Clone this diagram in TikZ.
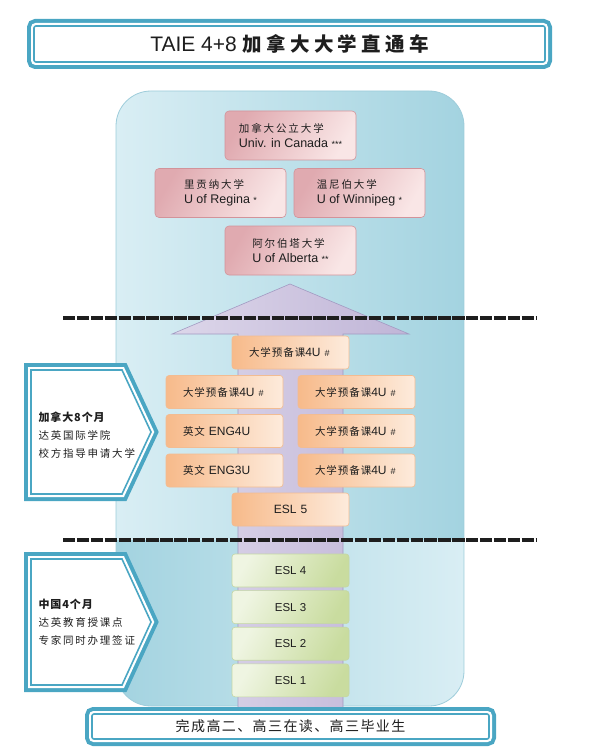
\documentclass[tikz,border=0pt]{standalone}
\usepackage{fontspec}
\setmainfont{Liberation Sans}
\newfontfamily\cjk{Noto Sans CJK SC}
\usetikzlibrary{positioning}
\definecolor{frameblue}{HTML}{4AA6C3}
\definecolor{panellt}{HTML}{D9EEF4}
\definecolor{paneldk}{HTML}{A3D3E0}
\definecolor{paneledge}{HTML}{9DCCDA}
\definecolor{rosetop}{HTML}{F9E6E6}
\definecolor{rosebot}{HTML}{E0AAB0}
\definecolor{roseedge}{HTML}{D2939A}
\definecolor{peachdk}{HTML}{F7BA8A}
\definecolor{peachlt}{HTML}{FDEBDC}
\definecolor{peachedge}{HTML}{F2BC92}
\definecolor{sagedk}{HTML}{C9DC9F}
\definecolor{sagelt}{HTML}{EFF5E2}
\definecolor{sageedge}{HTML}{C4D7A3}
\definecolor{lilaclt}{HTML}{E9E5F2}
\definecolor{lilacdk}{HTML}{C0B5D7}
\definecolor{lilacedge}{HTML}{A29AC2}
\definecolor{ink}{HTML}{1E1E1E}
% size, letter space, text
\newcommand\zh[3]{{\cjk\fontsize{#1}{#1}\selectfont\addfontfeatures{LetterSpace=#2}#3}}
\newcommand\uflag[1]{{\fontsize{9}{9}\selectfont #1}}
\tikzset{fig/.style={x=1pt,y=-1pt,color=ink,line join=miter},
  tealframe/.style={draw=frameblue,line width=1.6,fill=white,
    preaction={draw=frameblue,line width=14},
    preaction={draw=white,line width=6}},
  uni/.style={draw=roseedge,line width=.6,rounded corners=4,
    left color=rosebot,right color=rosetop,shading angle=60,
    minimum width=131,minimum height=49,align=left,
    font=\fontsize{12.5}{15}\selectfont},
  course/.style={draw=peachedge,line width=.6,rounded corners=3,
    left color=peachdk,right color=peachlt,
    minimum height=33,inner xsep=17,text width=83,align=left,
    font=\fontsize{12}{14}\selectfont},
  esl/.style={draw=sageedge,line width=.6,rounded corners=3,
    left color=sagelt,right color=sagedk,shading angle=60,
    minimum width=117,minimum height=33,
    font=\fontsize{11.5}{14}\selectfont},
  sidetext/.style={anchor=west,align=left,font=\fontsize{11}{18}\selectfont},
  cutline/.style={line width=4,dash pattern=on 12.3 off 1.6}}

\begin{document}
\begin{tikzpicture}[fig]
  \useasboundingbox (0,0) rectangle (593,754);
  % background panel
  \begin{scope}
    \clip[rounded corners=35] (116,91) rectangle (464,706);
    \shade[left color=panellt,right color=paneldk] (116,91) rectangle (464,540);
    \shade[left color=paneldk,right color=panellt] (116,540) rectangle (464,706);
  \end{scope}
  \draw[paneledge,line width=.8,rounded corners=35] (116,91) rectangle (464,706);
  % the big arrow
  \draw[lilacedge,line width=.6,left color=lilaclt!70!lilacdk,middle color=lilaclt,right color=lilacdk]
    (238,712) -- (238,334) -- (172,334) -- (290,284) -- (409,334) -- (343,334) -- (343,712) -- cycle;
  % title and base
  \node[tealframe,rounded corners=2,minimum width=511,minimum height=36] (title) at (289.5,44)
    {\fontsize{21}{24}\selectfont TAIE 4+8 {\bfseries\zh{19.5}{22}{加拿大大学直通车}}};
  \node[tealframe,rounded corners=2,minimum width=397,minimum height=25] (base) at (290.5,726.5)
    {\zh{14}{10}{完成高二、高三在读、高三毕业生}};
  % universities
  \node[uni] (pub) at (290.5,135.5) {\zh{10.5}{18}{加拿大公立大学}\\Univ. in Canada \uflag{***}};
  \node[uni] (regina) at (220.5,193) {\zh{10.5}{18}{里贡纳大学}\\U of Regina \uflag{*}};
  \node[uni] (winnipeg) at (359.5,193) {\zh{10.5}{18}{温尼伯大学}\\U of Winnipeg \uflag{*}};
  \node[uni] (alberta) at (290.5,250.5) {\zh{10.5}{18}{阿尔伯塔大学}\\U of Alberta \uflag{**}};
  % eight months in Canada
  \node[course] (prepTop) at (290.5,352.5) {\zh{10.5}{9}{大学预备课}4U~\uflag{\#}};
  \node[course] (prepL) at (224.5,392) {\zh{10.5}{9}{大学预备课}4U~\uflag{\#}};
  \node[course] (prepR1) at (356.5,392) {\zh{10.5}{9}{大学预备课}4U~\uflag{\#}};
  \node[course] (eng4) at (224.5,431) {\zh{10.5}{9}{英文} ENG4U};
  \node[course] (prepR2) at (356.5,431) {\zh{10.5}{9}{大学预备课}4U~\uflag{\#}};
  \node[course] (eng3) at (224.5,470.5) {\zh{10.5}{9}{英文} ENG3U};
  \node[course] (prepR3) at (356.5,470.5) {\zh{10.5}{9}{大学预备课}4U~\uflag{\#}};
  \node[course,align=center] (esl5) at (290.5,509.5) {ESL 5};
  % four months in China
  \node[esl] (esl4) at (290.5,570.5) {ESL 4};
  \node[esl,below=3pt of esl4] (esl3) {ESL 3};
  \node[esl,below=3pt of esl3] (esl2) {ESL 2};
  \node[esl,below=3pt of esl2] (esl1) {ESL 1};
  % side tags
  \draw[tealframe] (31,370) -- (122,370) -- (151,432) -- (122,494) -- (31,494) -- cycle;
  \node[sidetext] (canText) at (35,435)
    {{\bfseries\zh{11}{8}{加拿大8个月}}\\\zh{10.5}{17}{达英国际学院}\\\zh{10.5}{17}{校方指导申请大学}};
  \draw[tealframe] (31,559) -- (122,559) -- (151,622) -- (122,685) -- (31,685) -- cycle;
  \node[sidetext] (chnText) at (35,622)
    {{\bfseries\zh{11}{8}{中国4个月}}\\\zh{10.5}{17}{达英教育授课点}\\\zh{10.5}{17}{专家同时办理签证}};
  % stage separators
  \coordinate (cutAw) at (63,318);
  \coordinate (cutAe) at (537,318);
  \coordinate (cutBw) at (63,540);
  \coordinate (cutBe) at (537,540);
  \draw[cutline] (cutAw) -- (cutAe);
  \draw[cutline] (cutBw) -- (cutBe);
\end{tikzpicture}
\end{document}
